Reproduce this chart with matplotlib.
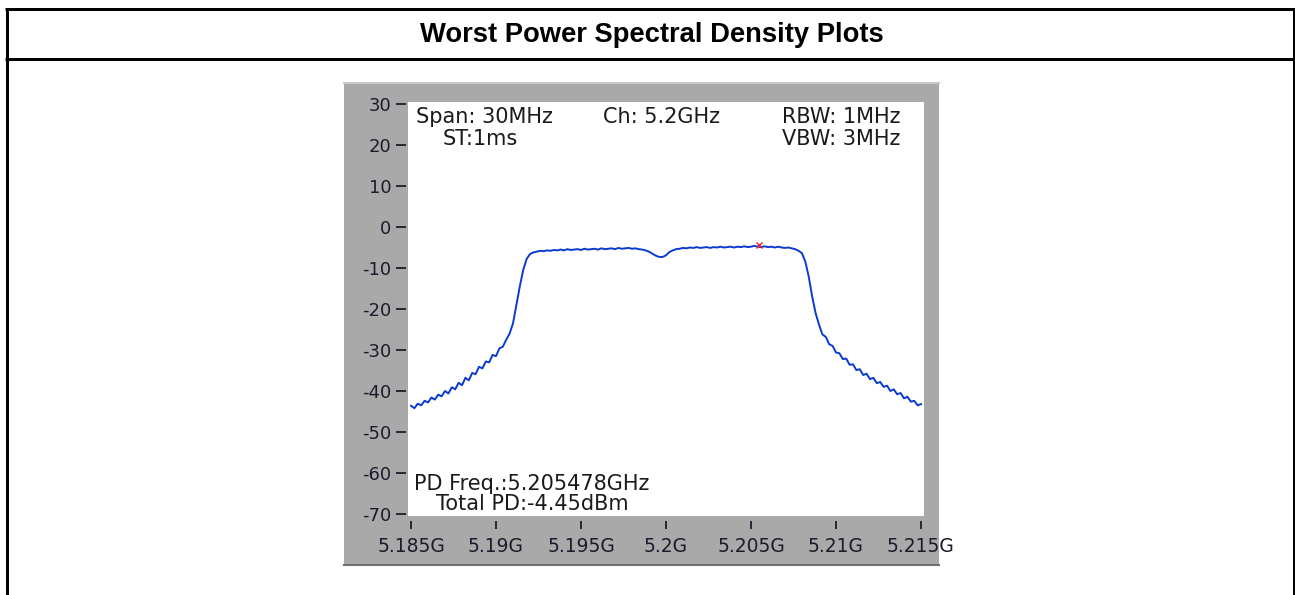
import numpy as np
import matplotlib
matplotlib.use("Agg")
import matplotlib.pyplot as plt
from matplotlib.lines import Line2D
from matplotlib.patches import Rectangle

plt.rcParams["font.family"] = ["DejaVu Sans"]

# ---------------- data ----------------
title = "Worst Power Spectral Density Plots"
f_start_ghz = 5.185
f_step_ghz = 0.0002
level_dbm = [
    -43.6, -44.2, -43.1, -43.5, -42.4, -42.8, -41.6, -42.1, -40.9, -41.3,
    -40.0, -40.6, -39.1, -39.6, -38.0, -38.6, -36.8, -37.4, -35.6, -35.9,
    -34.1, -34.5, -32.8, -33.0, -31.2, -31.5, -29.6, -29.2, -27.5, -26.0,
    -23.5, -19.0, -14.5, -10.5, -7.8, -6.6, -6.2, -6.0, -5.8, -5.9,
    -5.7, -5.8, -5.6, -5.7, -5.5, -5.7, -5.4, -5.6, -5.5, -5.4,
    -5.6, -5.3, -5.5, -5.4, -5.3, -5.5, -5.2, -5.4, -5.3, -5.2,
    -5.4, -5.1, -5.3, -5.2, -5.1, -5.3, -5.2, -5.4, -5.5, -5.7,
    -6.0, -6.5, -7.0, -7.3, -7.3, -6.9, -6.1, -5.7, -5.4, -5.3,
    -5.1, -5.2, -5.0, -5.1, -4.9, -5.1, -5.0, -4.9, -5.1, -4.9,
    -5.0, -4.8, -5.0, -4.9, -4.8, -5.0, -4.8, -4.9, -4.7, -4.9,
    -4.8, -4.6, -4.8, -4.9, -4.7, -4.9, -4.8, -5.0, -4.8, -5.0,
    -5.1, -5.0, -5.2, -5.4, -5.8, -6.4, -8.5, -12.2, -17.0, -21.0,
    -23.8, -26.2, -26.8, -28.6, -29.0, -30.6, -30.8, -32.2, -32.1, -33.6,
    -33.5, -34.9, -34.7, -36.1, -35.8, -37.1, -36.8, -38.1, -37.8, -39.0,
    -38.7, -40.0, -39.6, -40.8, -40.5, -41.8, -41.4, -42.6, -42.4, -43.5,
    -43.2,
]
marker_freq_ghz = 5.205478
marker_level_dbm = -4.45
x_ticks = [5.185, 5.19, 5.195, 5.2, 5.205, 5.21, 5.215]
x_tick_labels = ["5.185G", "5.19G", "5.195G", "5.2G", "5.205G", "5.21G", "5.215G"]
y_ticks = [30, 20, 10, 0, -10, -20, -30, -40, -50, -60, -70]
y_tick_labels = ["30", "20", "10", "0", "-10", "-20", "-30", "-40", "-50", "-60", "-70"]
info_top_left = "Span: 30MHz"
info_top_left2 = "ST:1ms"
info_top_mid = "Ch: 5.2GHz"
info_top_right = "RBW: 1MHz"
info_top_right2 = "VBW: 3MHz"
info_bottom1 = "PD Freq.:5.205478GHz"
info_bottom2 = "Total PD:-4.45dBm"

freq_ghz = f_start_ghz + f_step_ghz * np.arange(len(level_dbm))

# ---------------- figure ----------------
W, H = 1295, 595
fig = plt.figure(figsize=(W / 100, H / 100), dpi=100)
fig.patch.set_facecolor("white")

def fx(px):
    return px / W

def fy(py):
    return 1 - py / H

# outer table frame
lw_frame = 3 * 72 / 100
for (x0, y0, x1, y1) in [(6.5, 8.5, 6.5, 600), (1293.5, 8.5, 1293.5, 600),
                         (5, 8.5, 1295, 8.5), (5, 58.5, 1295, 58.5)]:
    fig.add_artist(Line2D([fx(x0), fx(x1)], [fy(y0), fy(y1)], color="black",
                          lw=lw_frame, solid_capstyle="butt"))

fig.text(fx(652), fy(35), title, ha="center", va="center",
         fontsize=19.7, fontweight="bold", family="Liberation Sans")

# gray panel
panel_l, panel_t, panel_r, panel_b = 344, 82, 939, 566
fig.add_artist(Rectangle((fx(panel_l), fy(panel_b)), fx(panel_r - panel_l),
                         (panel_b - panel_t) / H, facecolor="#a9a9a9",
                         edgecolor="none", zorder=0))
fig.add_artist(Line2D([fx(panel_l), fx(panel_r)], [fy(panel_t + 1), fy(panel_t + 1)],
                      color="#c8c8c8", lw=1.5))
fig.add_artist(Line2D([fx(panel_l), fx(panel_r)], [fy(panel_b - 1), fy(panel_b - 1)],
                      color="#6e6e6e", lw=1.5))

# plot axes
ax_l, ax_t, ax_r, ax_b = 408, 102, 924, 516
ax = fig.add_axes([fx(ax_l), fy(ax_b), fx(ax_r - ax_l), (ax_b - ax_t) / H])
ax.set_facecolor("white")
ax.plot(freq_ghz, level_dbm, color="#0a3ad0", lw=1.4)
ax.plot([marker_freq_ghz], [marker_level_dbm], marker="x", color="#e8202a",
        ms=4.5, mew=1.0, ls="none")

ax.set_xlim(5.185 - 3 / 17 * 0.001, 5.215 + 3 / 17 * 0.001)
ax.set_ylim(-70.5, 30.5)
for s in ax.spines.values():
    s.set_visible(False)
ax.spines["bottom"].set_position(("outward", 3.6))
ax.spines["left"].set_position(("outward", 1.4))

ax.set_xticks(x_ticks)
ax.set_xticklabels(x_tick_labels)
ax.set_yticks(y_ticks)
ax.set_yticklabels(y_tick_labels)
ax.tick_params(axis="x", direction="out", length=6, width=1.3, pad=5.5,
               labelsize=13.5, colors="#1c1c2c")
ax.tick_params(axis="y", direction="out", length=7.2, width=1.3, pad=3.5,
               labelsize=13, colors="#1c1c2c")

tc = "#1a1a1a"
def axfx(px):
    return (px - ax_l) / (ax_r - ax_l)

def axfy(py):
    return 1 - (py - ax_t) / (ax_b - ax_t)

fs = 15
ax.text(axfx(416), axfy(116.5), info_top_left, transform=ax.transAxes,
        ha="left", va="center", fontsize=fs, color=tc)
ax.text(axfx(443), axfy(138.5), info_top_left2, transform=ax.transAxes,
        ha="left", va="center", fontsize=fs, color=tc)
ax.text(axfx(603), axfy(116.5), info_top_mid, transform=ax.transAxes,
        ha="left", va="center", fontsize=fs, color=tc)
ax.text(axfx(900), axfy(116.5), info_top_right, transform=ax.transAxes,
        ha="right", va="center", fontsize=fs, color=tc)
ax.text(axfx(900), axfy(138.5), info_top_right2, transform=ax.transAxes,
        ha="right", va="center", fontsize=fs, color=tc)
ax.text(axfx(414), axfy(484), info_bottom1, transform=ax.transAxes,
        ha="left", va="center", fontsize=fs, color=tc)
ax.text(axfx(436), axfy(504.5), info_bottom2, transform=ax.transAxes,
        ha="left", va="center", fontsize=fs, color=tc)

fig.savefig("out.png", dpi=100, facecolor="white")
